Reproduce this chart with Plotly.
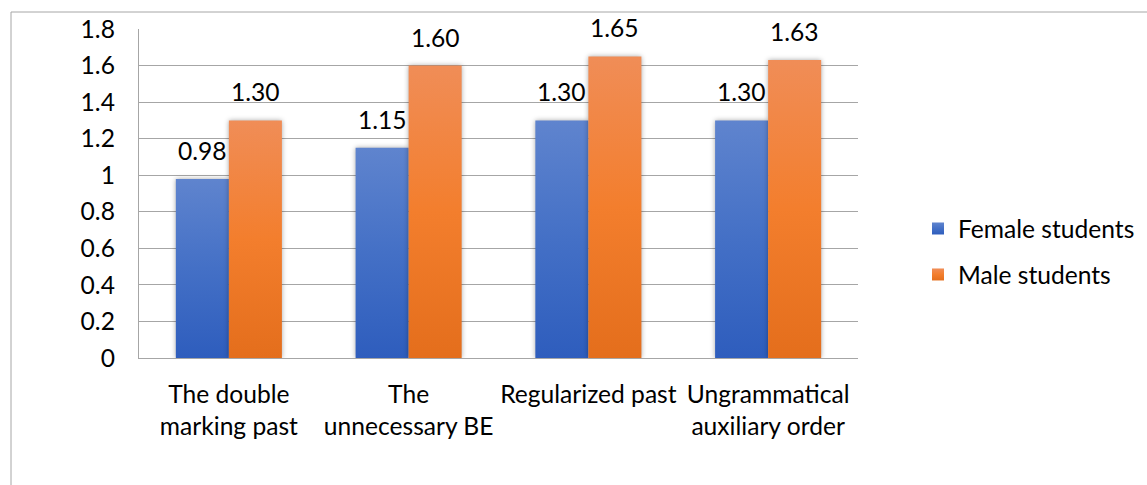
import plotly.graph_objects as go

categories = ["The double<br>marking past", "The<br>unnecessary BE", "Regularized past", "Ungrammatical<br>auxiliary order"]
female = [0.98, 1.15, 1.30, 1.30]
male = [1.30, 1.60, 1.65, 1.63]
series_names = ["Female students", "Male students"]
y_ticks = [0, 0.2, 0.4, 0.6, 0.8, 1.0, 1.2, 1.4, 1.6, 1.8]

FONT = "Lato, 'Open Sans', sans-serif"
FS = 24.6
GRID = "#A6A6A6"
W, H = 1147, 485
ML, MR, MT, MB = 139, 289, 29, 127
PLOT_W = W - ML - MR
PLOT_H = H - MT - MB
BARGAP = 0.41
bar_w = PLOT_W / len(categories) * (1 - BARGAP) / 2

fig = go.Figure()
fig.add_trace(go.Bar(x=categories, y=female, name=series_names[0],
                     marker=dict(color="#4472C4", line=dict(width=0)), legendgroup="f"))
fig.add_trace(go.Bar(x=categories, y=male, name=series_names[1],
                     marker=dict(color="#ED7D31", line=dict(width=0)), legendgroup="m"))

annotations = []
for vals, sign in ((female, -1), (male, 1)):
    for c, v in zip(categories, vals):
        annotations.append(dict(x=c, y=v, xref="x", yref="y", text=f"{v:.2f}",
                                showarrow=False, yanchor="bottom", xanchor="center",
                                xshift=sign * bar_w / 2, yshift=12,
                                font=dict(family=FONT, size=FS, color="#000000")))

shapes = [dict(type="rect", xref="paper", yref="paper",
               x0=(11 - ML) / PLOT_W, x1=(W + 20 - ML) / PLOT_W,
               y0=-(MB + 20) / PLOT_H, y1=(PLOT_H + MT - 12) / PLOT_H,
               line=dict(color=GRID, width=1), fillcolor="rgba(0,0,0,0)", layer="below")]

fig.update_layout(
    width=W, height=H,
    margin=dict(l=ML, r=MR, t=MT, b=MB, pad=0, autoexpand=False),
    paper_bgcolor="white", plot_bgcolor="white",
    barmode="group", bargap=BARGAP, bargroupgap=0,
    font=dict(family=FONT, size=FS, color="#000000"),
    showlegend=True,
    legend=dict(xref="container", yref="container",
                x=918 / W, y=1 - 251.5 / H, xanchor="left", yanchor="middle",
                font=dict(family=FONT, size=FS, color="#000000"),
                tracegroupgap=11, bgcolor="rgba(0,0,0,0)"),
    xaxis=dict(showgrid=False, showline=True, linecolor=GRID, linewidth=1.3,
               ticks="", tickfont=dict(family=FONT, size=FS), ticklabelstandoff=14),
    yaxis=dict(range=[0, 1.8], tickvals=y_ticks, ticktext=[f"{t:g}" for t in y_ticks],
               showgrid=True, gridcolor=GRID, gridwidth=1.3,
               showline=True, linecolor=GRID, linewidth=1.3, zeroline=False,
               ticks="", tickfont=dict(family=FONT, size=FS), ticklabelstandoff=18),
    annotations=annotations,
    shapes=shapes,
)

post = """
(function(){
document.documentElement.style.margin='0';
document.body.style.margin='0';
document.body.style.overflow='hidden';
var gd = document.getElementById('{plot_id}');
var ns = 'http://www.w3.org/2000/svg';
function addGrad(svg, id, stops){
  if (document.getElementById(id)) return;
  var defs = svg.querySelector('defs');
  if(!defs){defs=document.createElementNS(ns,'defs'); svg.insertBefore(defs, svg.firstChild);}
  var g = document.createElementNS(ns,'linearGradient');
  g.setAttribute('id',id); g.setAttribute('x1','0'); g.setAttribute('y1','0'); g.setAttribute('x2','0'); g.setAttribute('y2','1');
  stops.forEach(function(s){var st=document.createElementNS(ns,'stop'); st.setAttribute('offset',s[0]); st.setAttribute('stop-color',s[1]); g.appendChild(st);});
  defs.appendChild(g);
}
function apply(){
  var svg = gd.querySelector('svg.main-svg');
  addGrad(svg,'gradF',[['0','#5F84CE'],['0.5','#4470C6'],['1','#2E5DBD']]);
  addGrad(svg,'gradM',[['0','#F08D57'],['0.5','#F37E2D'],['1','#E46E1C']]);
  var ids=['gradF','gradM'];
  gd.querySelectorAll('.barlayer .trace').forEach(function(t,i){
    t.querySelectorAll('path').forEach(function(p){
      p.style.fill='url(#'+ids[i]+')';
      p.style.filter='drop-shadow(0px 0px 2.5px rgba(0,0,0,0.35))';
    });
  });
  gd.querySelectorAll('.legend .traces').forEach(function(t,i){
    t.querySelectorAll('.legendpoints path').forEach(function(p){ p.style.fill='url(#'+ids[i]+')'; });
  });
}
apply();
gd.on('plotly_afterplot', apply);
})();
"""

fig.write_html("out.html", post_script=post, config={"displayModeBar": False})
